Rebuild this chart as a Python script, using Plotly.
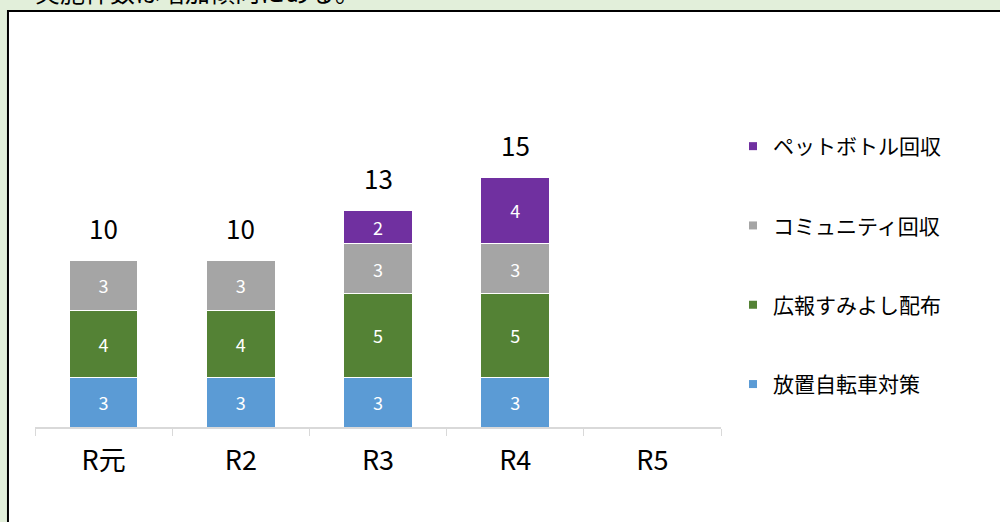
import plotly.graph_objects as go

categories = ["R元", "R2", "R3", "R4", "R5"]
series_names = ["放置自転車対策", "広報すみよし配布", "コミュニティ回収", "ペットボトル回収"]
bicycle = [3, 3, 3, 3, None]
koho = [4, 4, 5, 5, None]
community = [3, 3, 3, 3, None]
petbottle = [None, None, 2, 4, None]
totals = [10, 10, 13, 15, None]
colors = ["#5b9bd5", "#548235", "#a5a5a5", "#7030a0"]
header_text = "実施件数は増加傾向にある。"

FONT = "Noto Sans CJK JP"
fig = go.Figure()

n = len(series_names)
for i, (name, vals, col) in enumerate(zip(series_names, [bicycle, koho, community, petbottle], colors)):
    fig.add_trace(go.Bar(
        x=categories, y=vals, name=name,
        marker=dict(color=col, line=dict(color="white", width=1)),
        text=[("" if v is None else str(v)) for v in vals],
        textposition="inside", insidetextanchor="middle",
        textfont=dict(color="white", size=18, family=FONT),
        showlegend=False, hoverinfo="skip",
    ))
    # legend entry with small square marker
    fig.add_trace(go.Scatter(
        x=[None], y=[None], mode="markers", name=name,
        marker=dict(symbol="square", size=8, color=col),
        legendgroup=name, legendrank=n - i, showlegend=True,
    ))

for c, t in zip(categories, totals):
    if t is None:
        continue
    fig.add_annotation(x=c, y=t, text=str(t), showarrow=False,
                       yanchor="middle", yshift=33,
                       font=dict(size=26, color="#000000", family=FONT))

fig.add_annotation(xref="paper", yref="paper", x=0, xshift=-2, y=1, yshift=16,
                   xanchor="left", yanchor="bottom", text=header_text, showarrow=False,
                   font=dict(size=25, color="#000000", family=FONT))

# white framed panel
fig.add_shape(type="rect", xref="paper", yref="paper",
              x0=-0.0394, x1=1.5, y0=-0.5, y1=1.04, layer="below",
              line=dict(color="black", width=2), fillcolor="white")

fig.update_layout(
    width=1000, height=522,
    barmode="stack", bargap=0.5,
    paper_bgcolor="#e2efda", plot_bgcolor="rgba(0,0,0,0)",
    margin=dict(l=35, r=279, t=27, b=95),
    font=dict(family=FONT, color="#000000"),
    xaxis=dict(showline=True, linecolor="#d9d9d9", linewidth=1.5,
               ticks="outside", tickson="boundaries", ticklen=7, tickcolor="#d9d9d9",
               tickfont=dict(size=27, family=FONT, color="#000000"),
               ticklabelstandoff=9, showgrid=False, fixedrange=True),
    yaxis=dict(range=[0, 24], visible=False, showgrid=False, fixedrange=True),
    legend=dict(x=1.0175, xanchor="left", y=0.7525, yanchor="top",
                traceorder="grouped", tracegroupgap=49,
                font=dict(size=21, family=FONT, color="#000000"),
                bgcolor="rgba(0,0,0,0)"),
    showlegend=True,
)

fig.write_html("out.html", config={"displayModeBar": False},
               post_script="document.body.style.margin='0';")
